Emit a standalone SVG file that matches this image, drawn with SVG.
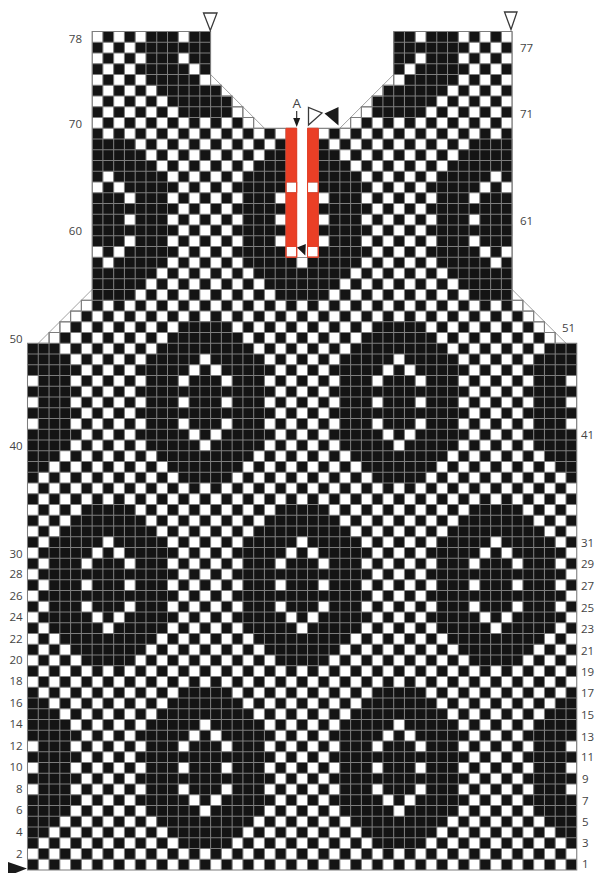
<svg xmlns="http://www.w3.org/2000/svg" width="595" height="873" viewBox="0 0 595 873">
<style>
.k{fill:#141414}
.w{fill:#fff}
.g{fill:none;stroke:#7d7d7d;stroke-width:1.05;vector-effect:non-scaling-stroke}
.t{fill:#fff;stroke:#969696;stroke-width:.9;vector-effect:non-scaling-stroke}
.r{fill:#ea3f26;fill-rule:evenodd;stroke:#ea3f26;stroke-width:.9;vector-effect:non-scaling-stroke}
text{font-family:"Open Sans","Noto Sans",sans-serif;font-size:11.5px;fill:#444}
.l{text-anchor:end}
.m{fill:#fff;stroke:#3a3a3a;stroke-width:1.3}
.b{fill:#1a1a1a}
</style>
<defs>
<pattern id="chk" patternUnits="userSpaceOnUse" x="0" y="0" width="2" height="2">
<rect width="2" height="2" fill="#fff"/>
<rect class="k" x="0" y="0" width="1" height="1"/>
<rect class="k" x="1" y="1" width="1" height="1"/>
</pattern>
<clipPath id="shape">
<path d="M0 0H51V49H49V50H48V51H47V52H46V53H45V78H34V73H33V72H32V71H31V70H30V69H26V57H25V69H21V70H20V71H19V72H18V73H17V78H6V53H5V52H4V51H3V50H2V49H0Z"/>
</clipPath>
<g id="oval">
<path class="k" d="M-2.5 7.5H2.5V6.5H3.5V5.5H4.5V4.5H5.5V-4.5H4.5V-5.5H3.5V-6.5H2.5V-7.5H-2.5V-6.5H-3.5V-5.5H-4.5V-4.5H-5.5V4.5H-4.5V5.5H-3.5V6.5H-2.5Z"/>
<path class="w" d="M-.5 3.5h1v1h-1zM-1.5 2.5h1v1h-1zM.5 2.5h1v1h-1zM-2.5 1.5h1v1h-1zM1.5 1.5h1v1h-1zM-2.5 -.5h1v1h-1zM1.5 -.5h1v1h-1zM-2.5 -2.5h1v1h-1zM1.5 -2.5h1v1h-1zM-1.5 -3.5h1v1h-1zM.5 -3.5h1v1h-1zM-.5 -4.5h1v1h-1z"/>
</g>
</defs>
<rect width="595" height="873" fill="#fff"/>
<g id="chart" transform="translate(27.5 870) scale(10.77 -10.75)">
<g clip-path="url(#shape)">
<rect width="51" height="78" fill="url(#chk)"/>
<use href="#oval" transform="translate(-1.5 9.5)"/>
<use href="#oval" transform="translate(16.5 9.5)"/>
<use href="#oval" transform="translate(34.5 9.5)"/>
<use href="#oval" transform="translate(52.5 9.5)"/>
<use href="#oval" transform="translate(7.5 26.5)"/>
<use href="#oval" transform="translate(25.5 26.5)"/>
<use href="#oval" transform="translate(43.5 26.5)"/>
<use href="#oval" transform="translate(-1.5 43.5)"/>
<use href="#oval" transform="translate(16.5 43.5)"/>
<use href="#oval" transform="translate(34.5 43.5)"/>
<use href="#oval" transform="translate(52.5 43.5)"/>
<use href="#oval" transform="translate(7.5 60.5)"/>
<use href="#oval" transform="translate(25.5 60.5)"/>
<use href="#oval" transform="translate(43.5 60.5)"/>
<use href="#oval" transform="translate(16.5 77.5)"/>
<use href="#oval" transform="translate(34.5 77.5)"/>
<path class="g" d="M1 0V78M2 0V78M3 0V78M4 0V78M5 0V78M6 0V78M7 0V78M8 0V78M9 0V78M10 0V78M11 0V78M12 0V78M13 0V78M14 0V78M15 0V78M16 0V78M17 0V78M18 0V78M19 0V78M20 0V78M21 0V78M22 0V78M23 0V78M24 0V78M25 0V78M26 0V78M27 0V78M28 0V78M29 0V78M30 0V78M31 0V78M32 0V78M33 0V78M34 0V78M35 0V78M36 0V78M37 0V78M38 0V78M39 0V78M40 0V78M41 0V78M42 0V78M43 0V78M44 0V78M45 0V78M46 0V78M47 0V78M48 0V78M49 0V78M50 0V78M0 1H51M0 2H51M0 3H51M0 4H51M0 5H51M0 6H51M0 7H51M0 8H51M0 9H51M0 10H51M0 11H51M0 12H51M0 13H51M0 14H51M0 15H51M0 16H51M0 17H51M0 18H51M0 19H51M0 20H51M0 21H51M0 22H51M0 23H51M0 24H51M0 25H51M0 26H51M0 27H51M0 28H51M0 29H51M0 30H51M0 31H51M0 32H51M0 33H51M0 34H51M0 35H51M0 36H51M0 37H51M0 38H51M0 39H51M0 40H51M0 41H51M0 42H51M0 43H51M0 44H51M0 45H51M0 46H51M0 47H51M0 48H51M0 49H51M0 50H51M0 51H51M0 52H51M0 53H51M0 54H51M0 55H51M0 56H51M0 57H51M0 58H51M0 59H51M0 60H51M0 61H51M0 62H51M0 63H51M0 64H51M0 65H51M0 66H51M0 67H51M0 68H51M0 69H51M0 70H51M0 71H51M0 72H51M0 73H51M0 74H51M0 75H51M0 76H51M0 77H51"/>
</g>
<path id="half-cells" class="t" d="M17 74V73H18ZM18 73V72H19ZM19 72V71H20ZM20 71V70H21ZM21 70V69H22ZM34 74V73H33ZM33 73V72H32ZM32 72V71H31ZM31 71V70H30ZM30 70V69H29ZM6 54V53H5ZM5 53V52H4ZM4 52V51H3ZM3 51V50H2ZM2 50V49H1ZM45 54V53H46ZM46 53V52H47ZM47 52V51H48ZM48 51V50H49ZM49 50V49H50Z"/>
<path id="outline" class="g" d="M25 69H21V70H20V71H19V72H18V73H17V78H6V53H5V52H4V51H3V50H2V49H0V0H51V49H49V50H48V51H47V52H46V53H45V78H34V73H33V72H32V71H31V70H30V69H26"/>
<path id="red" class="r" d="M24 57H25V69H24ZM24 57.02H25V58H24ZM24 63H25V64H24ZM26 57H27V69H26ZM26 57.02H27V58H26ZM26 63H27V64H26Z"/>
</g>
<g id="markers">
<polygon class="m" points="203.5,13 217,13 210.3,30.5"/>
<polygon class="m" points="504.5,12 517,12 511,29.5"/>
<polygon class="m" points="308.5,107.5 308.5,125 322,113"/>
<polygon class="b" points="324.5,113.5 338.5,107 338.5,125.5"/>
<polygon class="b" points="305.8,244 297,247.5 305.3,255.5"/>
<polygon class="b" points="8,862 27,868.5 8,876"/>
<line x1="296.7" y1="111" x2="296.7" y2="120" stroke="#222" stroke-width="1.1"/>
<polygon class="b" points="293.2,118 300.2,118 296.7,127"/>
</g>
<g id="labels">
<text x="296.7" y="107.5" text-anchor="middle" style="font-size:13.5px">A</text>
<text class="l" x="82" y="43">78</text>
<text class="l" x="82" y="127.5">70</text>
<text class="l" x="82" y="235">60</text>
<text class="l" x="22.7" y="342.5">50</text>
<text class="l" x="22.7" y="450">40</text>
<text class="l" x="22.7" y="557.5">30</text>
<text class="l" x="22.7" y="578">28</text>
<text class="l" x="22.7" y="599.5">26</text>
<text class="l" x="22.7" y="621">24</text>
<text class="l" x="22.7" y="642.7">22</text>
<text class="l" x="22.7" y="663.5">20</text>
<text class="l" x="22.7" y="685">18</text>
<text class="l" x="22.7" y="706.5">16</text>
<text class="l" x="22.7" y="728">14</text>
<text class="l" x="22.7" y="749.7">12</text>
<text class="l" x="22.7" y="771">10</text>
<text class="l" x="22.7" y="792.5">8</text>
<text class="l" x="22.7" y="814">6</text>
<text class="l" x="22.7" y="835.7">4</text>
<text class="l" x="22.7" y="857.5">2</text>
<text x="520" y="52">77</text>
<text x="520" y="118">71</text>
<text x="520" y="225">61</text>
<text x="562" y="332">51</text>
<text x="581" y="439">41</text>
<text x="581" y="546.5">31</text>
<text x="581" y="568">29</text>
<text x="581" y="590">27</text>
<text x="581" y="611.5">25</text>
<text x="581" y="633">23</text>
<text x="581" y="654.5">21</text>
<text x="581" y="676">19</text>
<text x="581" y="697">17</text>
<text x="581" y="719">15</text>
<text x="581" y="740.5">13</text>
<text x="581" y="761">11</text>
<text x="582" y="783">9</text>
<text x="582" y="804.5">7</text>
<text x="582" y="826">5</text>
<text x="582" y="847">3</text>
<text x="582" y="868">1</text>
</g>
</svg>
